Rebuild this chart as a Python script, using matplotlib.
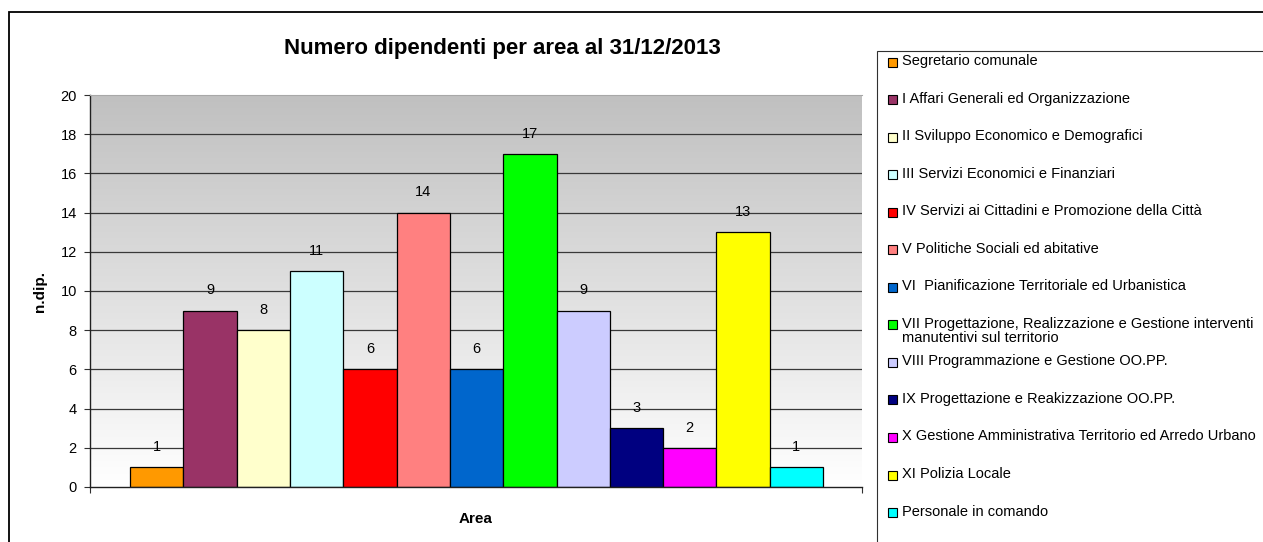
import numpy as np
import matplotlib
matplotlib.use("Agg")
import matplotlib.pyplot as plt
from matplotlib.colors import LinearSegmentedColormap
from matplotlib.patches import Rectangle

plt.rcParams['font.family'] = ['Liberation Sans', 'DejaVu Sans']

# data
aree = [
    "Segretario comunale",
    "I Affari Generali ed Organizzazione",
    "II Sviluppo Economico e Demografici",
    "III Servizi Economici e Finanziari",
    "IV Servizi ai Cittadini e Promozione della Città",
    "V Politiche Sociali ed abitative",
    "VI  Pianificazione Territoriale ed Urbanistica",
    "VII Progettazione, Realizzazione e Gestione interventi\nmanutentivi sul territorio",
    "VIII Programmazione e Gestione OO.PP.",
    "IX Progettazione e Reakizzazione OO.PP.",
    "X Gestione Amministrativa Territorio ed Arredo Urbano",
    "XI Polizia Locale",
    "Personale in comando",
]
dipendenti = [1, 9, 8, 11, 6, 14, 6, 17, 9, 3, 2, 13, 1]
colori = ["#FF9900", "#993366", "#FFFFCC", "#CCFFFF", "#FF0000", "#FF8080",
          "#0066CC", "#00FF00", "#CCCCFF", "#000080", "#FF00FF", "#FFFF00",
          "#00FFFF"]
y_ticks = [0, 2, 4, 6, 8, 10, 12, 14, 16, 18, 20]

W, H = 1263, 542
fig = plt.figure(figsize=(W / 100, H / 100), dpi=100)

# outer chart border and legend box (extend past the image edge)
fig.patches.append(Rectangle((9 / W, -0.1), 1.2, 1 - 12 / H + 0.1, transform=fig.transFigure,
                             fill=False, edgecolor="black", linewidth=1.3))
fig.patches.append(Rectangle((877 / W, -0.1), 1.0, 1 - 51 / H + 0.1, transform=fig.transFigure,
                             fill=False, edgecolor="#303030", linewidth=0.8))

ax = fig.add_axes([90 / W, 55 / H, 772 / W, 392 / H])
x = np.arange(len(dipendenti))
x0, x1 = -1.25, len(dipendenti) - 0.5 + 0.73
ax.set_xlim(x0, x1)
ax.set_ylim(0, 20)

# grey-to-white gradient background
cmap = LinearSegmentedColormap.from_list("bg", ["#FFFFFF", "#C0C0C0"])
grad = np.linspace(0, 1, 256).reshape(-1, 1)
ax.imshow(grad, cmap=cmap, extent=[x0, x1, 0, 20], origin="lower",
          aspect="auto", zorder=0)

for t in y_ticks[1:-1]:
    ax.axhline(t, color="#383838", linewidth=0.9, zorder=1)

ax.bar(x, dipendenti, width=1.0, color=colori, edgecolor="black",
       linewidth=0.9, zorder=2)
for xi, v in zip(x, dipendenti):
    ax.annotate(str(v), (xi, v), xytext=(0, 14.5), textcoords="offset points",
                ha="center", va="center", fontsize=10.5, zorder=3)

ax.set_yticks(y_ticks)
ax.tick_params(axis="y", direction="out", length=4.5, width=0.8, pad=5,
               labelsize=10.5, color="#303030")
ax.set_xticks([x0, x1])
ax.set_xticklabels([])
ax.tick_params(axis="x", direction="out", length=4, width=0.8, color="#303030")

for s in ["left", "bottom"]:
    ax.spines[s].set_color("#202020")
    ax.spines[s].set_linewidth(1.0)
ax.spines["top"].set_color("#A8A8A8")
ax.spines["top"].set_linewidth(0.8)
ax.spines["right"].set_visible(False)

fig.text(502 / W, 1 - 54 / H, "Numero dipendenti per area al 31/12/2013",
         ha="center", va="baseline", fontsize=16, fontweight="bold")
fig.text(40 / W, 1 - 291 / H, "n.dip.", rotation=90, ha="center", va="center",
         fontsize=11, fontweight="bold")
fig.text(476 / W, 1 - 519 / H, "Area", ha="center", va="center",
         fontsize=11, fontweight="bold")

# legend
for i, (lab, col) in enumerate(zip(aree, colori)):
    yc = 62 + 37.55 * i
    fig.patches.append(Rectangle((888 / W, 1 - (yc + 4.5) / H), 9 / W, 9 / H,
                                 transform=fig.transFigure, facecolor=col,
                                 edgecolor="black", linewidth=0.8))
    fig.text(902 / W, 1 - (yc - 8) / H, lab, ha="left", va="top",
             fontsize=10.5, linespacing=1.05)

fig.savefig("out.png", dpi=100)
